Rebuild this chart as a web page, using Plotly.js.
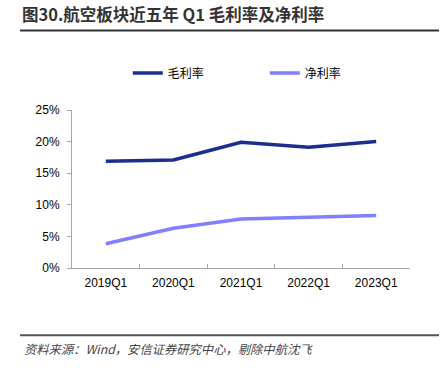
<!DOCTYPE html>
<html><head><meta charset="utf-8">
<script src="https://cdn.plot.ly/plotly-3.0.1.min.js"></script>
<style>html,body{margin:0;padding:0;background:#fff;}#chart{width:447px;height:373px;}</style>
</head><body><div id="chart"></div>
<script>
const categories = ['2019Q1','2020Q1','2021Q1','2022Q1','2023Q1'];
const grossMargin = [0.169, 0.171, 0.199, 0.191, 0.200];
const netMargin = [0.0385, 0.063, 0.0775, 0.080, 0.083];
const seriesNames = ['毛利率','净利率'];
const yTicks = [0, 0.05, 0.10, 0.15, 0.20, 0.25];

const traces = [
  {x: categories, y: grossMargin, name: seriesNames[0], type: 'scatter', mode: 'lines',
   line: {color: '#1b2d8f', width: 3.5}},
  {x: categories, y: netMargin, name: seriesNames[1], type: 'scatter', mode: 'lines',
   line: {color: '#7f7fff', width: 3.5}}
];

const layout = {
  width: 447, height: 373,
  margin: {l: 72, r: 37, t: 110, b: 105},
  paper_bgcolor: '#fff', plot_bgcolor: '#fff',
  font: {family: 'Liberation Sans, Arial, sans-serif', size: 12, color: '#000'},
  showlegend: true,
  legend: {orientation: 'h', x: 0.165, y: 1.234, xanchor: 'left', yanchor: 'middle',
    font: {family: 'Noto Sans CJK SC, sans-serif', size: 12, color: '#000'},
    entrywidth: 92, entrywidthmode: 'pixels', itemwidth: 30, traceorder: 'normal'},
  xaxis: {type: 'category', range: [-0.5, 4.5], showgrid: false, showline: true, linecolor: '#a6a6a6', linewidth: 1,
    ticks: 'inside', tickson: 'boundaries', ticklen: 4, tickcolor: '#a6a6a6', ticklabelstandoff: 4,
    tickfont: {size: 12, color: '#000'}, zeroline: false, fixedrange: true},
  yaxis: {range: [0, 0.25], tickvals: yTicks, tickformat: '.0%', showgrid: false,
    showline: true, linecolor: '#a6a6a6', linewidth: 1, ticks: 'outside', ticklen: 4,
    tickcolor: '#a6a6a6', ticklabelstandoff: 5, zeroline: false, tickfont: {size: 12, color: '#000'}, fixedrange: true},
  shapes: [
    {type: 'line', xref: 'paper', yref: 'paper', x0: -0.154, x1: 1.086, y0: 1.503, y1: 1.503,
     line: {color: '#333', width: 2}},
    {type: 'line', xref: 'paper', yref: 'paper', x0: -0.154, x1: 1.086, y0: -0.426, y1: -0.426,
     line: {color: '#555', width: 2}}
  ],
  annotations: [
    {xref: 'paper', yref: 'paper', x: -0.154, y: 1.52, xanchor: 'left', yanchor: 'bottom',
     text: '<b>图30.航空板块近五年 Q1 毛利率及净利率</b>', showarrow: false,
     font: {family: 'Noto Sans CJK SC, sans-serif', size: 16.5, color: '#333'}},
    {xref: 'paper', yref: 'paper', x: -0.148, y: -0.44, xanchor: 'left', yanchor: 'top',
     text: '<i>资料来源：Wind，安信证券研究中心，剔除中航沈飞</i>', showarrow: false,
     font: {family: 'Noto Sans CJK SC, sans-serif', size: 12.3, color: '#444'}}
  ]
};
Plotly.newPlot('chart', traces, layout, {displayModeBar: false, staticPlot: true});
</script></body></html>
